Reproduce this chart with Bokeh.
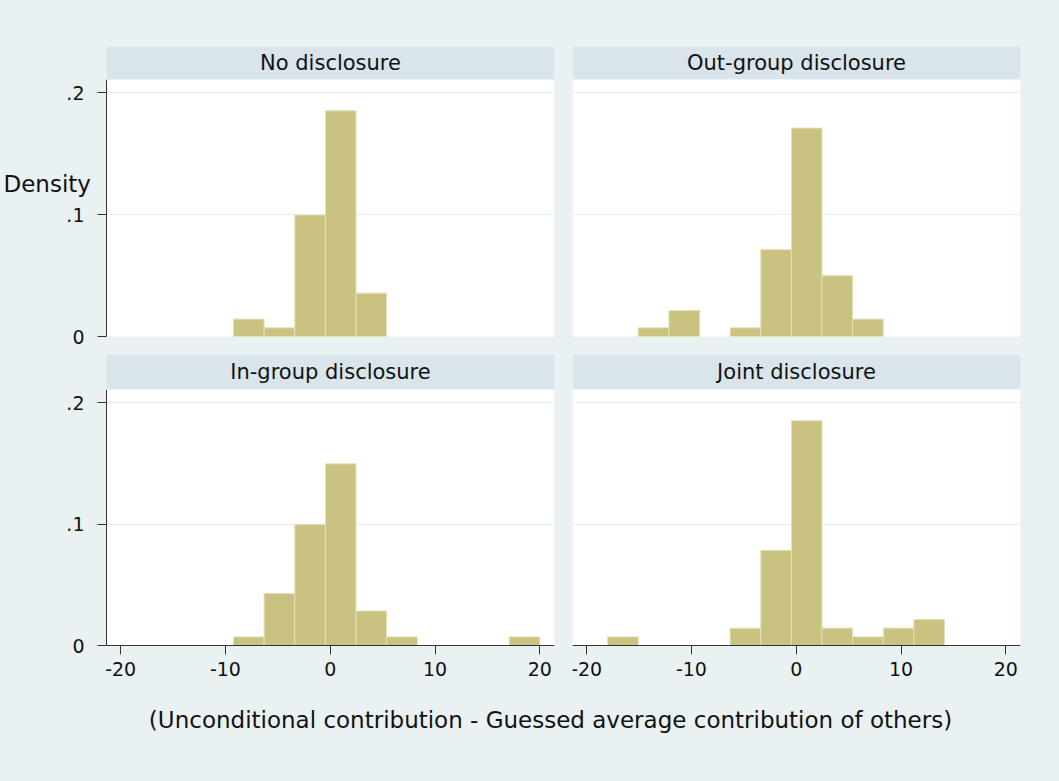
from bokeh.plotting import figure
from bokeh.layouts import column, row
from bokeh.models import Range1d, FixedTicker, Label, LinearAxis
from bokeh.embed import file_html
from bokeh.resources import INLINE

# ---------------- data ----------------
bin_edges = [-18.0, -15.08, -12.15, -9.23, -6.31, -3.38, -0.46, 2.46, 5.38, 8.31, 11.23, 14.15, 17.08, 20.0]

panel_titles = ["No disclosure", "Out-group disclosure", "In-group disclosure", "Joint disclosure"]

density_no_disclosure = [0, 0, 0, 0.0143, 0.0071, 0.0998, 0.1853, 0.0356, 0, 0, 0, 0, 0]
density_out_group = [0, 0.0071, 0.0214, 0, 0.0071, 0.0713, 0.1711, 0.0499, 0.0143, 0, 0, 0, 0]
density_in_group = [0, 0, 0, 0.0071, 0.0428, 0.0998, 0.1497, 0.0285, 0.0071, 0, 0, 0, 0.0071]
density_joint = [0.0071, 0, 0, 0, 0.0143, 0.0784, 0.1853, 0.0143, 0.0071, 0.0143, 0.0214, 0, 0]

xtick_values = [-20, -10, 0, 10, 20]
xtick_labels = ["-20", "-10", "0", "10", "20"]
ytick_values = [0, 0.1, 0.2]
ytick_labels = ["0", ".1", ".2"]
grid_values = [0.1, 0.2]

y_title = "Density"
x_title = "(Unconditional contribution - Guessed average contribution of others)"

# ---------------- style ----------------
FONT = "DejaVu Sans"
BG = "#EAF1F3"
STRIP = "#D9E5EA"
BAR = "#CAC280"
BAR_EDGE = "#E4E0B6"
GRID = "#E6EEF1"
AXIS = "#333333"
TXT = "#111111"
BGSTYLE = {"background-color": BG}

X_RANGE = (-21.35, 21.4)
Y_TOP = 0.211
FRAME_W = 448
PX_PER_UNIT = FRAME_W / (X_RANGE[1] - X_RANGE[0])
LEFT_MARGIN_PX = 106                     # room for the y axis of the left column
LEFT_EXT = X_RANGE[0] - LEFT_MARGIN_PX / PX_PER_UNIT
X_MID = (X_RANGE[0] + X_RANGE[1]) / 2

LEFT_W, RIGHT_W = 563, 496
LEFT_BORDERS = (0, 9)      # left column frames start at the canvas edge
RIGHT_BORDERS = (9, 39)


def new_fig(width, height, borders, top, bottom, x_range, y_range):
    p = figure(width=width, height=height, output_backend="svg", toolbar_location=None,
               tools="", x_range=Range1d(*x_range), y_range=Range1d(*y_range),
               x_axis_location=None, y_axis_location=None, styles=BGSTYLE)
    p.min_border = 0
    p.min_border_left, p.min_border_right = borders
    p.min_border_top = top
    p.min_border_bottom = bottom
    p.border_fill_color = BG
    p.background_fill_color = BG
    p.outline_line_color = None
    return p


def style_axis(ax, ticks, labels, standoff):
    ax.ticker = FixedTicker(ticks=ticks)
    ax.major_label_overrides = {v: l for v, l in zip(ticks, labels)}
    ax.axis_line_color = AXIS
    ax.major_tick_line_color = AXIS
    ax.minor_tick_line_color = None
    ax.major_tick_out = 9
    ax.major_tick_in = 0
    ax.major_label_standoff = standoff
    ax.major_label_text_font = FONT
    ax.major_label_text_font_size = "19px"
    ax.major_label_text_color = TXT


def strip_fig(title, left_col, top, frame_h):
    width = LEFT_W if left_col else RIGHT_W
    borders = LEFT_BORDERS if left_col else RIGHT_BORDERS
    xr = (LEFT_EXT, X_RANGE[1]) if left_col else X_RANGE
    p = new_fig(width, top + frame_h, borders, top, 0, xr, (0, 1))
    p.grid.visible = False
    p.quad(left=X_RANGE[0], right=X_RANGE[1], bottom=0, top=1, fill_color=STRIP, line_color=None)
    p.add_layout(Label(x=X_MID, y=0.5, text=title, text_align="center", text_baseline="middle",
                       text_font=FONT, text_font_size="21px", text_color=TXT))
    return p


def hist_fig(dens, left_col, panel_px, below_px, show_x):
    """panel_px: height of the white panel; below_px: room under the zero line (inside the frame)."""
    width = LEFT_W if left_col else RIGHT_W
    borders = LEFT_BORDERS if left_col else RIGHT_BORDERS
    xr = (LEFT_EXT, X_RANGE[1]) if left_col else X_RANGE
    px_per_y = panel_px / Y_TOP
    p = new_fig(width, panel_px + below_px, borders, 0, 0, xr, (-below_px / px_per_y, Y_TOP))

    # white plot region, beneath the grid
    p.quad(left=X_RANGE[0], right=X_RANGE[1], bottom=0, top=Y_TOP,
           fill_color="white", line_color=None, level="image")

    p.xgrid.visible = False
    p.ygrid.ticker = FixedTicker(ticks=grid_values)
    p.ygrid.grid_line_color = GRID
    p.ygrid.grid_line_width = 1

    if left_col:
        # hide grid lines left of the panel
        p.quad(left=LEFT_EXT, right=X_RANGE[0], bottom=-below_px / px_per_y, top=Y_TOP,
               fill_color=BG, line_color=None)
        yax = LinearAxis(fixed_location=X_RANGE[0], bounds=(0, Y_TOP))
        style_axis(yax, ytick_values, ytick_labels, 13)
        yax.major_label_orientation = "horizontal"
        p.add_layout(yax, "left")

    lefts = [bin_edges[i] for i, d in enumerate(dens) if d > 0]
    rights = [bin_edges[i + 1] for i, d in enumerate(dens) if d > 0]
    tops = [d for d in dens if d > 0]
    p.quad(left=lefts, right=rights, top=tops, bottom=0,
           fill_color=BAR, line_color=BAR_EDGE, line_width=1)

    if show_x:
        xax = LinearAxis(fixed_location=0, bounds=X_RANGE)
        style_axis(xax, xtick_values, xtick_labels, 7)
        p.add_layout(xax, "below")
    return p


s1 = strip_fig(panel_titles[0], True, 46, 33)
s2 = strip_fig(panel_titles[1], False, 46, 33)
p1 = hist_fig(density_no_disclosure, True, 257, 18, False)
p2 = hist_fig(density_out_group, False, 257, 18, False)

s3 = strip_fig(panel_titles[2], True, 0, 35)
s4 = strip_fig(panel_titles[3], False, 0, 35)
p3 = hist_fig(density_in_group, True, 256, 45, True)
p4 = hist_fig(density_joint, False, 256, 45, True)

# y title inside the (extended) top-left frame
p1.add_layout(Label(x=LEFT_EXT + 3 / PX_PER_UNIT, y=0.125, text=y_title,
                    text_align="left", text_baseline="alphabetic",
                    text_font=FONT, text_font_size="23px", text_color=TXT))

# x title figure (data units equal pixels here)
tf = new_fig(LEFT_W + RIGHT_W, 91, (0, 0), 0, 0, (0, LEFT_W + RIGHT_W), (0, 91))
tf.grid.visible = False
tf.add_layout(Label(x=550, y=62, text=x_title,
                    text_align="center", text_baseline="alphabetic",
                    text_font=FONT, text_font_size="23px", text_color=TXT))

layout = column(row(column(s1, p1, styles=BGSTYLE), column(s2, p2, styles=BGSTYLE), styles=BGSTYLE),
                row(column(s3, p3, styles=BGSTYLE), column(s4, p4, styles=BGSTYLE), styles=BGSTYLE),
                tf, styles=BGSTYLE)

open("out.html", "w").write(file_html(layout, INLINE))
